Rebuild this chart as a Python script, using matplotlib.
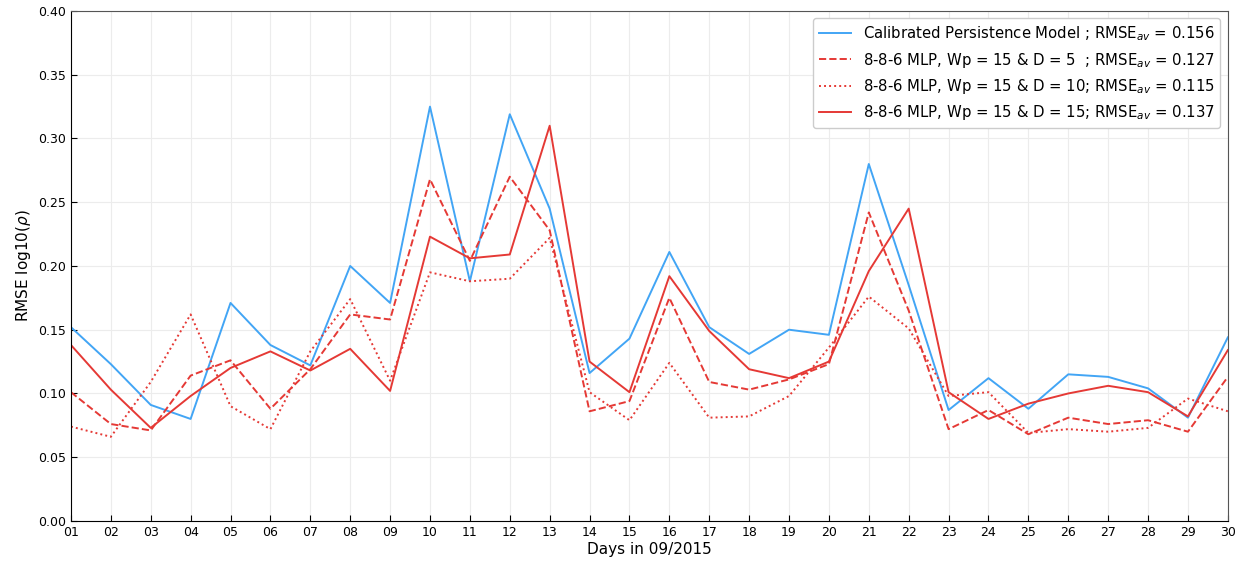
import numpy as np
import matplotlib
matplotlib.use("Agg")
import matplotlib.pyplot as plt

# RMSE of log10(rho) per day, September 2015
days = [f"{d:02d}" for d in range(1, 31)]

rmse_persistence = [0.152, 0.123, 0.091, 0.080, 0.171, 0.138, 0.122, 0.200, 0.171, 0.325,
                    0.188, 0.319, 0.245, 0.116, 0.143, 0.211, 0.152, 0.131, 0.150, 0.146,
                    0.280, 0.185, 0.087, 0.112, 0.088, 0.115, 0.113, 0.104, 0.081, 0.144]
rmse_d5 = [0.101, 0.076, 0.071, 0.114, 0.126, 0.088, 0.119, 0.162, 0.158, 0.268,
           0.204, 0.270, 0.228, 0.086, 0.094, 0.175, 0.109, 0.103, 0.111, 0.123,
           0.242, 0.165, 0.072, 0.087, 0.068, 0.081, 0.076, 0.079, 0.070, 0.113]
rmse_d10 = [0.074, 0.066, 0.109, 0.162, 0.090, 0.072, 0.133, 0.174, 0.110, 0.195,
            0.188, 0.190, 0.222, 0.101, 0.079, 0.124, 0.081, 0.082, 0.098, 0.136,
            0.176, 0.151, 0.098, 0.101, 0.069, 0.072, 0.070, 0.073, 0.096, 0.086]
rmse_d15 = [0.138, 0.103, 0.073, 0.098, 0.120, 0.133, 0.118, 0.135, 0.102, 0.223,
            0.206, 0.209, 0.310, 0.125, 0.101, 0.192, 0.149, 0.119, 0.112, 0.125,
            0.196, 0.245, 0.101, 0.080, 0.092, 0.100, 0.106, 0.101, 0.082, 0.134]

labels = [
    r"Calibrated Persistence Model ; RMSE$_{av}$ = 0.156",
    r"8-8-6 MLP, Wp = 15 & D = 5  ; RMSE$_{av}$ = 0.127",
    r"8-8-6 MLP, Wp = 15 & D = 10; RMSE$_{av}$ = 0.115",
    r"8-8-6 MLP, Wp = 15 & D = 15; RMSE$_{av}$ = 0.137",
]

C_BLUE = "#42a5f5"
C_RED = "#e53935"

fig = plt.figure(figsize=(12.36, 5.65), dpi=100)
ax = fig.add_axes([0.0574, 0.078, 0.936, 0.9025])

x = np.arange(len(days))
ax.plot(x, rmse_persistence, "-", color=C_BLUE, lw=1.4, label=labels[0])
ax.plot(x, rmse_d5, "--", color=C_RED, lw=1.4, label=labels[1])
ax.plot(x, rmse_d10, linestyle=(0, (1, 1.6)), color=C_RED, lw=1.4, label=labels[2])
ax.plot(x, rmse_d15, "-", color=C_RED, lw=1.4, label=labels[3])

ax.set_xlim(0, len(days) - 1)
ax.set_ylim(0, 0.40)
ax.set_xticks(x)
ax.set_xticklabels(days)
ax.set_yticks(np.arange(0, 0.401, 0.05))
ax.yaxis.set_major_formatter(matplotlib.ticker.FormatStrFormatter("%.2f"))
ax.tick_params(direction="in", labelsize=9, length=4)
ax.grid(color="#ececec", linewidth=0.8)
ax.set_axisbelow(True)
for s in ["top", "right"]:
    ax.spines[s].set_color("#555555")

ax.set_xlabel("Days in 09/2015", fontsize=11, labelpad=2)
ax.set_ylabel(r"RMSE log10($\rho$)", fontsize=11)
ax.legend(loc="upper right", fontsize=10.7, handlelength=2.1, framealpha=1,
          edgecolor="#cccccc")

fig.savefig("out.png", dpi=100)
